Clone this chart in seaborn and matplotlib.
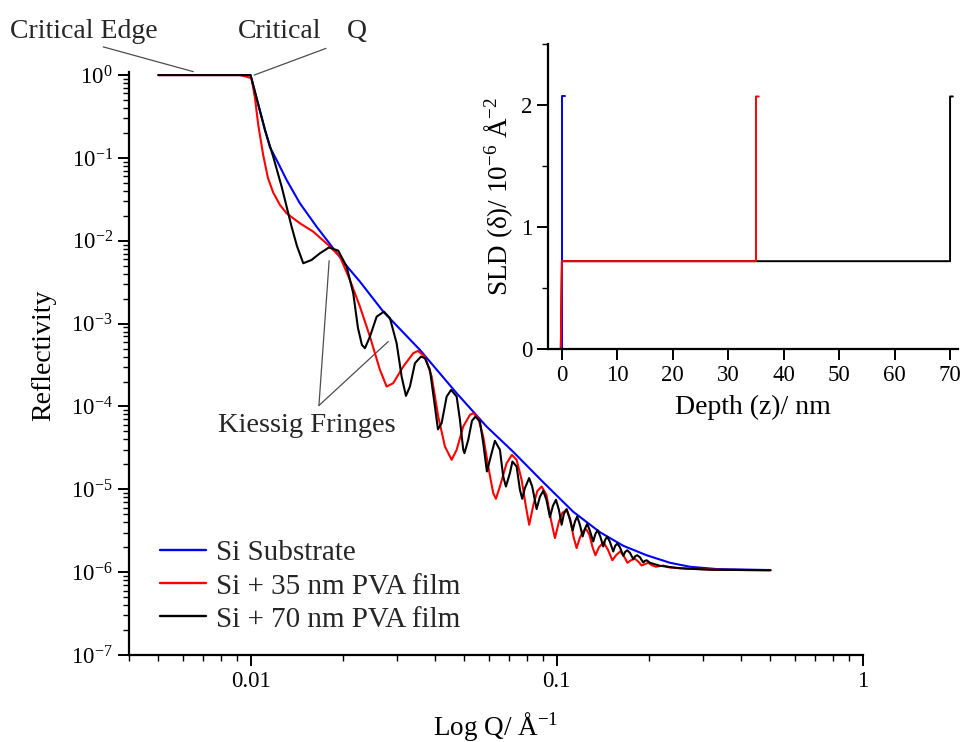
import numpy as np
import pandas as pd
import matplotlib
matplotlib.use("Agg")
import matplotlib.pyplot as plt
import seaborn as sns
from matplotlib.ticker import (FixedLocator, FixedFormatter, LogLocator,
                               NullFormatter, LogFormatterMathtext)

# ---------------- data ----------------
q_blue = [0.005, 0.0100, 0.01057, 0.01115, 0.01157, 0.01217, 0.01312, 0.01450,
          0.01644, 0.01817, 0.02061, 0.02278, 0.02715, 0.03578, 0.04716, 0.05908,
          0.07218, 0.09049, 0.1134, 0.1387, 0.1652, 0.1970, 0.2348, 0.2729,
          0.3336, 0.5]
r_blue = [1.0, 1.0, 0.4596, 0.2171, 0.1353, 0.0943, 0.05412, 0.02834,
          0.01479, 0.009151, 0.004966, 0.003211, 0.001395, 4.816e-4, 1.446e-4, 5.72e-5,
          2.834e-5, 1.215e-5, 5.354e-6, 3.03e-6, 2.082e-6, 1.599e-6, 1.298e-6, 1.162e-6,
          1.090e-6, 1.06e-6]

q_red = [0.005, 0.00923, 0.009806, 0.01008, 0.01034, 0.01060, 0.01100, 0.01140,
         0.01186, 0.01248, 0.01312, 0.01450, 0.01603, 0.01794, 0.01960, 0.02112,
         0.02278, 0.02456, 0.02648, 0.02785, 0.02926, 0.03155, 0.03402, 0.03524,
         0.03715, 0.03907, 0.04106, 0.04318, 0.04541, 0.04716, 0.04955, 0.05212,
         0.05351, 0.05548, 0.05760, 0.05981, 0.06210, 0.06337, 0.06531, 0.06869,
         0.07148, 0.07405, 0.07690, 0.07943, 0.08142, 0.08403, 0.08660, 0.08940,
         0.09268, 0.09587, 0.09880, 0.1018, 0.1045, 0.1079, 0.1110, 0.1136,
         0.1163, 0.1192, 0.1220, 0.1250, 0.1281, 0.1310, 0.1340, 0.1376,
         0.1425, 0.1472, 0.1522, 0.1570, 0.1615, 0.1661, 0.1705, 0.1750,
         0.1804, 0.1852, 0.1897, 0.1945, 0.1994, 0.2050, 0.2113, 0.2177,
         0.2232, 0.2348, 0.2729, 0.3420, 0.5]
r_red = [1.0, 1.0, 0.946, 0.912, 0.528, 0.2493, 0.1084, 0.05723,
         0.03825, 0.02703, 0.02146, 0.01626, 0.01288, 0.008899, 0.006429, 0.003366,
         0.001603, 6.967e-4, 2.764e-4, 1.738e-4, 1.910e-4, 3.029e-4, 4.394e-4, 4.684e-4,
         3.998e-4, 2.295e-4, 7.553e-5, 3.283e-5, 2.270e-5, 2.996e-5, 5.722e-5, 7.920e-5,
         8.302e-5, 7.224e-5, 4.334e-5, 1.884e-5, 8.995e-6, 7.682e-6, 1.081e-5, 2.070e-5,
         2.607e-5, 2.270e-5, 1.302e-5, 6.151e-6, 3.730e-6, 6.502e-6, 9.591e-6, 1.081e-5,
         8.585e-6, 4.286e-6, 2.578e-6, 4.055e-6, 5.206e-6, 5.659e-6, 4.286e-6, 2.673e-6,
         1.953e-6, 2.600e-6, 3.115e-6, 3.293e-6, 2.826e-6, 2.024e-6, 1.599e-6, 1.997e-6,
         2.295e-6, 1.863e-6, 1.391e-6, 1.622e-6, 1.777e-6, 1.555e-6, 1.298e-6, 1.391e-6,
         1.450e-6, 1.335e-6, 1.204e-6, 1.252e-6, 1.298e-6, 1.211e-6, 1.162e-6, 1.185e-6,
         1.201e-6, 1.136e-6, 1.099e-6, 1.069e-6, 1.054e-6]

q_black = [0.005, 0.0100, 0.01057, 0.01115, 0.01186, 0.01264, 0.01362, 0.01418,
           0.01487, 0.01583, 0.01686, 0.01804, 0.01935, 0.02061, 0.02166, 0.02244,
           0.02312, 0.02365, 0.02456, 0.02583, 0.02729, 0.02855, 0.03002, 0.03117,
           0.03220, 0.03318, 0.03446, 0.03605, 0.03715, 0.03857, 0.04005, 0.04097,
           0.04212, 0.04374, 0.04524, 0.04716, 0.04834, 0.04956, 0.05001, 0.05146,
           0.05291, 0.05432, 0.05619, 0.05760, 0.05922, 0.06135, 0.06289, 0.06531,
           0.06695, 0.06833, 0.07041, 0.07175, 0.07405, 0.07592, 0.07724, 0.07882,
           0.08135, 0.08327, 0.08607, 0.08824, 0.09048, 0.09268, 0.09515, 0.09733,
           0.09955, 0.1018, 0.1039, 0.1057, 0.1079, 0.1102, 0.1129, 0.1148,
           0.1168, 0.1192, 0.1217, 0.1238, 0.1260, 0.1285, 0.1318, 0.1340,
           0.1362, 0.1391, 0.1421, 0.1442, 0.1464, 0.1494, 0.1532, 0.1555,
           0.1579, 0.1611, 0.1652, 0.1677, 0.1702, 0.1737, 0.1781, 0.1808,
           0.1835, 0.1873, 0.1920, 0.1945, 0.1970, 0.2020, 0.2177, 0.2531,
           0.3172, 0.5]
r_black = [1.0, 1.0, 0.4596, 0.2171, 0.1034, 0.04494, 0.01479, 0.008655,
           0.005353, 0.005867, 0.007066, 0.008302, 0.007597, 0.004871, 0.002326, 8.873e-4,
           5.535e-4, 5.049e-4, 6.967e-4, 0.001214, 0.001395, 0.001162, 5.802e-4, 2.295e-4,
           1.342e-4, 1.738e-4, 3.330e-4, 3.998e-4, 3.824e-4, 2.764e-4, 9.972e-5, 5.293e-5,
           6.288e-5, 1.316e-4, 1.585e-4, 1.316e-4, 6.893e-5, 2.996e-5, 2.733e-5, 3.955e-5,
           6.704e-5, 7.553e-5, 6.575e-5, 3.608e-5, 1.639e-5, 2.733e-5, 3.846e-5, 2.996e-5,
           1.427e-5, 1.081e-5, 1.568e-5, 2.164e-5, 1.884e-5, 9.863e-6, 7.682e-6, 1.034e-5,
           1.365e-5, 1.081e-5, 5.771e-6, 8.120e-6, 9.591e-6, 7.471e-6, 4.620e-6, 6.324e-6,
           7.471e-6, 5.659e-6, 3.730e-6, 5.064e-6, 5.771e-6, 4.531e-6, 3.184e-6, 4.055e-6,
           4.697e-6, 3.730e-6, 2.695e-6, 3.339e-6, 3.835e-6, 3.158e-6, 2.346e-6, 2.905e-6,
           3.202e-6, 2.673e-6, 2.042e-6, 2.459e-6, 2.673e-6, 2.326e-6, 1.777e-6, 2.082e-6,
           2.213e-6, 1.997e-6, 1.577e-6, 1.762e-6, 1.837e-6, 1.714e-6, 1.439e-6, 1.555e-6,
           1.599e-6, 1.512e-6, 1.309e-6, 1.372e-6, 1.391e-6, 1.298e-6, 1.194e-6, 1.114e-6,
           1.069e-6, 1.054e-6]

series_labels = ["Si Substrate", "Si + 35 nm PVA film", "Si + 70 nm PVA film"]

# SLD profiles (inset)
z_blue = [-0.2, 0.0, 0.0, 0.5]
sld_blue = [0.0, 0.0, 2.07, 2.07]
z_red = [-0.2, 0.0, 35.0, 35.0, 35.5]
sld_red = [0.0, 0.72, 0.72, 2.07, 2.07]
z_black = [-0.2, 0.0, 70.0, 70.0, 70.5]
sld_black = [0.0, 0.72, 0.72, 2.07, 2.07]

x_ticks = [0.01, 0.1, 1.0]
x_tick_labels = ["0.01", "0.1", "1"]
inset_x_ticks = [0, 10, 20, 30, 40, 50, 60, 70]
inset_y_ticks = [0, 1, 2]

# ---------------- style ----------------
sns.set_theme(style="ticks")
plt.rcParams["font.family"] = ["Liberation Serif", "DejaVu Serif"]
plt.rcParams["mathtext.fontset"] = "custom"
plt.rcParams["mathtext.rm"] = "Liberation Serif"
plt.rcParams["mathtext.it"] = "Liberation Serif:italic"
plt.rcParams["mathtext.bf"] = "Liberation Serif:bold"

BLUE, RED, BLACK = "#0000ff", "#ff0000", "#000000"
LEG = 21
ANN = 20
AXL = 19.5
TCK = 16.5

W, H = 963, 742
fig = plt.figure(figsize=(W / 100, H / 100), dpi=100)

def fx(px):
    return px / W

def fy(py):
    return 1 - py / H

# ---------------- main axes ----------------
ax = fig.add_axes([0.1337, 0.11725, 0.7620, 0.7853])
ax.set_facecolor("white")

sns.lineplot(x=np.array(q_blue), y=np.array(r_blue), ax=ax, color=BLUE, lw=1.5,
             sort=False, estimator=None, label=series_labels[0])
sns.lineplot(x=np.array(q_red), y=np.array(r_red), ax=ax, color=RED, lw=1.5,
             sort=False, estimator=None, label=series_labels[1])
sns.lineplot(x=np.array(q_black), y=np.array(r_black), ax=ax, color=BLACK, lw=1.5,
             sort=False, estimator=None, label=series_labels[2])

ax.set_xscale("log")
ax.set_yscale("log")
ax.set_xlim(0.004, 1.0)
ax.set_ylim(1e-7, 1.08)

sns.despine(ax=ax)
for s in ["left", "bottom"]:
    ax.spines[s].set_linewidth(1.6)
    ax.spines[s].set_color("black")

ax.xaxis.set_major_locator(FixedLocator(x_ticks))
ax.xaxis.set_major_formatter(FixedFormatter(x_tick_labels))
ax.xaxis.set_minor_locator(LogLocator(base=10, subs=np.arange(2, 10), numticks=50))
ax.xaxis.set_minor_formatter(NullFormatter())
ax.yaxis.set_major_locator(LogLocator(base=10, numticks=30))
ax.yaxis.set_major_formatter(LogFormatterMathtext())
ax.yaxis.set_minor_locator(LogLocator(base=10, subs=np.arange(2, 10), numticks=200))
ax.yaxis.set_minor_formatter(NullFormatter())

ax.tick_params(which="major", direction="out", length=8, width=1.4,
               colors="black", labelsize=TCK)
ax.tick_params(which="minor", direction="out", length=4.5, width=1.0, colors="black")

ax.set_xlabel("Log Q/ Å$^{-1}$", fontsize=AXL, color="black")
ax.set_ylabel("Reflectivity", fontsize=20, color="black")
ax.xaxis.set_label_coords(0.5, -0.094)
ax.yaxis.set_label_coords(-0.099, 0.515)

leg = ax.legend(loc="upper left", bbox_to_anchor=(fx(160), fy(540)),
                bbox_transform=fig.transFigure, frameon=False, fontsize=LEG,
                handlelength=1.58, handletextpad=0.34, labelspacing=0.23,
                borderpad=0, borderaxespad=0)
for line in leg.get_lines():
    line.set_linewidth(1.7)

# annotation leader lines (data coordinates)
ann_kw = dict(color="0.3", lw=0.9, clip_on=False, zorder=1)
ax.plot([0.0033, 0.0065], [2.19, 1.10], **ann_kw)
ax.plot([0.01764, 0.01028], [2.10, 1.0], **ann_kw)
ax.plot([0.01673, 0.01807], [1.026e-4, 5.75e-3], **ann_kw)
ax.plot([0.01673, 0.02818], [1.026e-4, 6.07e-4], **ann_kw)

fig.text(fx(10), fy(31), "Critical Edge", fontsize=ANN, ha="left", va="center")
fig.text(fx(238), fy(31), "Critical", fontsize=ANN, ha="left", va="center")
fig.text(fx(347), fy(31), "Q", fontsize=ANN, ha="left", va="center")
fig.text(fx(218), fy(425), "Kiessig Fringes", fontsize=20.5, ha="left", va="center")

# ---------------- inset ----------------
ax2 = fig.add_axes([0.5691, 0.5296, 0.4261, 0.4111])
ax2.set_facecolor("white")
sns.lineplot(x=np.array(z_black), y=np.array(sld_black), ax=ax2, color=BLACK, lw=1.4,
             sort=False, estimator=None)
sns.lineplot(x=np.array(z_blue), y=np.array(sld_blue), ax=ax2, color=BLUE, lw=1.4,
             sort=False, estimator=None)
sns.lineplot(x=np.array(z_red), y=np.array(sld_red), ax=ax2, color=RED, lw=1.4,
             sort=False, estimator=None)
ax2.set_xlim(-2.5, 71.5)
ax2.set_ylim(0, 2.5)
sns.despine(ax=ax2)
for s in ["left", "bottom"]:
    ax2.spines[s].set_linewidth(1.6)
    ax2.spines[s].set_color("black")
ax2.xaxis.set_major_locator(FixedLocator(inset_x_ticks))
ax2.yaxis.set_major_locator(FixedLocator(inset_y_ticks))
ax2.yaxis.set_minor_locator(FixedLocator([0.5, 1.5, 2.5]))
ax2.tick_params(which="major", direction="out", length=8, width=1.4,
                colors="black", labelsize=TCK)
ax2.tick_params(which="minor", direction="out", length=4.5, width=1.0, colors="black")
ax2.set_xlabel("Depth (z)/ nm", fontsize=20, color="black")
ax2.set_ylabel("SLD (δ)/ 10$^{-6}$ Å$^{-2}$", fontsize=19.5, color="black")
ax2.xaxis.set_label_coords(0.5, -0.15)
ax2.yaxis.set_label_coords(-0.08, 0.5)
ax2.grid(False)
ax.grid(False)

fig.savefig("out.png", dpi=100, facecolor="white")
